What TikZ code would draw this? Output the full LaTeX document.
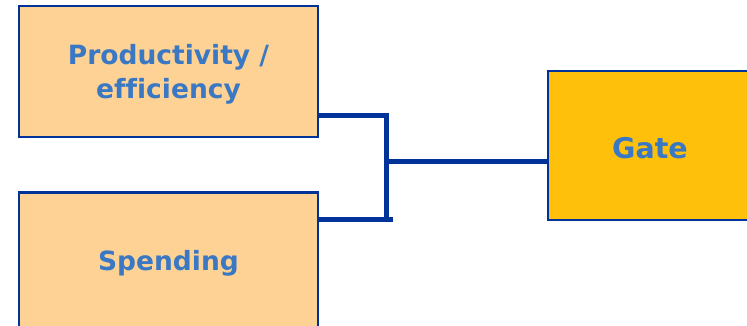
\documentclass[tikz,border=0pt]{standalone}
\usepackage{fontspec}
\setmainfont[Ligatures=NoCommon]{DejaVu Sans}
\usepackage{xcolor}
\usetikzlibrary{positioning}
\definecolor{linkblue}{RGB}{0,51,153}
\definecolor{labelblue}{RGB}{58,120,196}
\definecolor{peach}{RGB}{253,210,148}
\definecolor{amber}{RGB}{255,192,11}

\begin{document}
\begin{tikzpicture}[
  x=1pt, y=1pt,
  box/.style={draw=linkblue, line width=2.6pt, fill=peach, align=center,
              minimum width=299pt, text=labelblue, text depth=0pt,
              font=\bfseries\fontsize{26.5}{34}\selectfont, inner sep=0pt},
  link/.style={draw=linkblue, line width=5pt}
]
  \clip (0,0) rectangle (747,-326);
  \useasboundingbox (0,0) rectangle (747,-326);
  \node[box, minimum height=131pt] (prod) at (168.5,-71.5)
    {Productivity /\\efficiency};
  \node[box, minimum height=135pt, below=53pt of prod] (spend) {Spending};
  \node[box, fill=amber, minimum width=204pt, minimum height=149pt,
        font=\bfseries\fontsize{28.5}{34}\selectfont, text height=26pt]
    (gate) at (650,-145.5) {Gate};
  % bus between the two boxes and the gate
  \coordinate (bustop) at (386,-116);
  \coordinate (busbot) at (386,-219);
  \coordinate (busmid) at (386,-162);
  \draw[link] (prod.east |- bustop) -- (bustop) -- (busbot);
  \draw[link] (spend.east |- busbot) -- ++(74,0);
  \draw[link] (busmid) -- (gate.west |- busmid);
\end{tikzpicture}
\end{document}
